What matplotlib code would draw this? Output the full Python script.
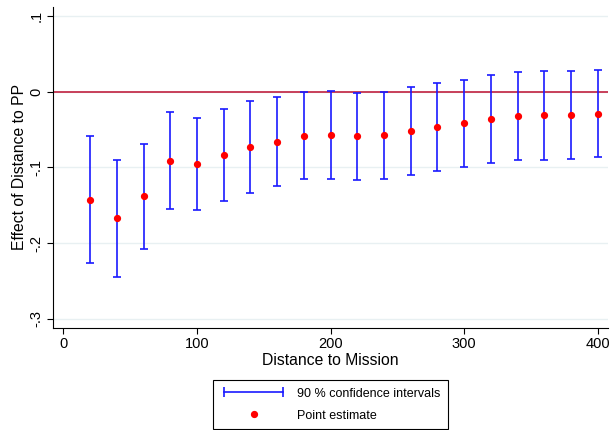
import matplotlib.pyplot as plt
from matplotlib.lines import Line2D
from matplotlib.legend_handler import HandlerLine2D

plt.rcParams['font.family'] = ['Liberation Sans', 'DejaVu Sans']

# distance bins and estimates
distance = [20, 40, 60, 80, 100, 120, 140, 160, 180, 200,
            220, 240, 260, 280, 300, 320, 340, 360, 380, 400]
estimate = [-0.143, -0.1675, -0.138, -0.091, -0.0955, -0.083, -0.073, -0.066, -0.058, -0.057,
            -0.0585, -0.0575, -0.052, -0.0465, -0.0415, -0.036, -0.0325, -0.031, -0.0305, -0.029]
ci_upper = [-0.059, -0.090, -0.0688, -0.0273, -0.0348, -0.0225, -0.0127, -0.0074, 0.0, 0.0013,
            -0.0009, 0.0, 0.0062, 0.0115, 0.0159, 0.0217, 0.026, 0.027, 0.0274, 0.0287]
ci_lower = [-0.227, -0.2455, -0.2077, -0.155, -0.1565, -0.1442, -0.1336, -0.1247, -0.1159, -0.1159,
            -0.1168, -0.1155, -0.1098, -0.1045, -0.0992, -0.0943, -0.0908, -0.0899, -0.0886, -0.0864]

yticks = [0.1, 0, -0.1, -0.2, -0.3]
yticklabels = ['.1', '0', '-.1', '-.2', '-.3']
xticks = [0, 100, 200, 300, 400]

fig = plt.figure(figsize=(6.11, 4.3), dpi=100)
ax = fig.add_axes([0.0873, 0.238, 0.908, 0.746])

for y in yticks:
    ax.axhline(y, color='#e8f0f2', lw=1.0, zorder=0)
ax.axhline(0, color='#c4324e', lw=1.3, zorder=1)

err_lo = [e - l for e, l in zip(estimate, ci_lower)]
err_hi = [u - e for e, u in zip(estimate, ci_upper)]
ax.errorbar(distance, estimate, yerr=[err_lo, err_hi], fmt='none', ecolor='#1a1aff',
            elinewidth=1.2, capsize=3.2, capthick=1.2, zorder=2)
ax.plot(distance, estimate, 'o', color='red', markersize=4.2, zorder=3)

ax.set_xlim(-7.5, 407.7)
ax.set_ylim(-0.312, 0.1124)
ax.set_xticks(xticks)
ax.set_yticks(yticks)
ax.set_yticklabels(yticklabels, rotation=90, va='center')
ax.tick_params(labelsize=10.5, length=4, width=0.8, pad=3)
for s in ['top', 'right']:
    ax.spines[s].set_visible(False)
ax.set_xlabel('Distance to Mission', fontsize=11.3, labelpad=1)
ax.set_ylabel('Effect of Distance to PP', fontsize=11.3, labelpad=2)

ci_handle = Line2D([], [], color='#1a1aff', lw=1.2, marker='|', markersize=7, markeredgewidth=1.2)
pt_handle = Line2D([], [], color='red', lw=0, marker='o', markersize=4.2)
leg = fig.legend([ci_handle, pt_handle], ['90 % confidence intervals', 'Point estimate'],
                 loc='center', bbox_to_anchor=(0.541, 0.059), fontsize=9,
                 handlelength=5.3, labelspacing=0.8, borderpad=0.6, handletextpad=0.8,
                 borderaxespad=0, fancybox=False, edgecolor='black', framealpha=1,
                 handler_map={ci_handle: HandlerLine2D(numpoints=2)})
leg.get_frame().set_linewidth(0.8)

fig.savefig('out.png', dpi=100)
